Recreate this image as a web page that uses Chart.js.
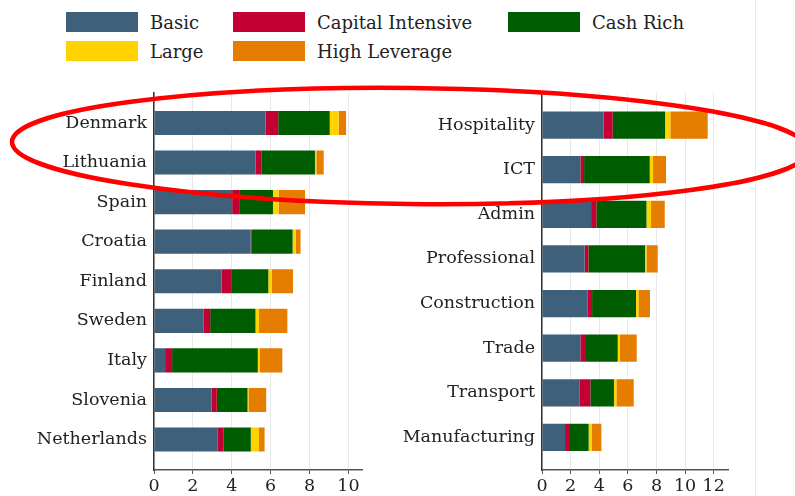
<!DOCTYPE html>
<html>
<head>
<meta charset="utf-8">
<script src="https://cdn.jsdelivr.net/npm/chart.js@4"></script>
<style>
  body { margin: 0; background: #fff; }
  #wrap { position: relative; width: 795px; height: 496px; overflow: hidden; font-family: "DejaVu Serif", serif; }
  #legend { position: absolute; left: 66px; top: 12px; display: grid; grid-template-columns: 167px 275px auto; row-gap: 9px; }
  .item { display: flex; align-items: center; font-size: 18px; color: #222; height: 20px; }
  .box { width: 72px; height: 20px; margin-right: 12px; }
  .panel { position: absolute; top: 75px; height: 421px; }
  #frame { position: absolute; left: 755px; top: 0; width: 0; height: 496px; border-left: 1px solid #ececec; }
  #mark { position: absolute; left: 0; top: 0; pointer-events: none; }
</style>
</head>
<body>
<div id="wrap">
  <div id="legend"></div>
  <div id="frame"></div>
  <div class="panel" style="left:0;width:370px"><canvas id="countryChart"></canvas></div>
  <div class="panel" style="left:390px;width:345px"><canvas id="sectorChart"></canvas></div>
  <svg id="mark" width="795" height="496">
    <ellipse cx="410" cy="146" rx="398" ry="58" transform="rotate(0.6 410 146)" fill="none" stroke="#ff0000" stroke-width="4.5"/>
  </svg>
</div>
<script>
const seriesNames = ["Basic", "Capital Intensive", "Cash Rich", "Large", "High Leverage"];
const seriesColors = ["#3f607a", "#c20033", "#005c00", "#ffd200", "#e57e00"];

const countries = ["Denmark", "Lithuania", "Spain", "Croatia", "Finland", "Sweden", "Italy", "Slovenia", "Netherlands"];
const countryBasic    = [5.74, 5.22, 4.02, 4.97, 3.47, 2.54, 0.57, 2.97, 3.26];
const countryCapital  = [0.65, 0.30, 0.36, 0.06, 0.50, 0.35, 0.36, 0.26, 0.33];
const countryCash     = [2.65, 2.76, 1.74, 2.10, 1.91, 2.33, 4.41, 1.58, 1.39];
const countryLarge    = [0.46, 0.07, 0.29, 0.16, 0.17, 0.18, 0.11, 0.05, 0.42];
const countryLeverage = [0.38, 0.38, 1.36, 0.25, 1.10, 1.46, 1.15, 0.91, 0.29];
const countryTicks = [0, 2, 4, 6, 8, 10];

const sectors = ["Hospitality", "ICT", "Admin", "Professional", "Construction", "Trade", "Transport", "Manufacturing"];
const sectorBasic    = [4.31, 2.68, 3.43, 2.98, 3.17, 2.68, 2.61, 1.61];
const sectorCapital  = [0.63, 0.26, 0.37, 0.26, 0.33, 0.33, 0.77, 0.28];
const sectorCash     = [3.66, 4.59, 3.50, 3.96, 3.07, 2.28, 1.65, 1.37];
const sectorLarge    = [0.37, 0.23, 0.32, 0.10, 0.17, 0.14, 0.17, 0.21];
const sectorLeverage = [2.61, 0.91, 0.96, 0.79, 0.81, 1.19, 1.21, 0.68];
const sectorTicks = [0, 2, 4, 6, 8, 10, 12];

// legend (shared by both panels)
const legend = document.getElementById("legend");
seriesNames.forEach((name, i) => {
  const item = document.createElement("div");
  item.className = "item";
  item.innerHTML = '<span class="box" style="background:' + seriesColors[i] + '"></span>' + name;
  legend.appendChild(item);
});

const font = { family: "'DejaVu Serif', serif", size: 17.5 };

function makeChart(id, labels, series, ticks, xMax, pad, yWidth, padRight) {
  return new Chart(document.getElementById(id), {
    type: 'bar',
    data: {
      datasets: series.map((values, s) => ({
        label: seriesNames[s],
        data: values.map((v, i) => ({ x: v, y: i })),
        backgroundColor: seriesColors[s],
        borderWidth: 0,
        barPercentage: 0.61,
        categoryPercentage: 1
      }))
    },
    options: {
      indexAxis: 'y',
      responsive: true,
      maintainAspectRatio: false,
      animation: false,
      layout: { padding: { top: 17, right: padRight, left: 0, bottom: 0 } },
      plugins: {
        legend: { display: false },
        tooltip: { enabled: false }
      },
      scales: {
        x: {
          type: 'linear',
          stacked: true,
          min: 0,
          max: xMax,
          afterBuildTicks: (scale) => { scale.ticks = ticks.map(v => ({ value: v })); },
          afterFit: (scale) => { scale.height = 26; },
          grid: { color: "#e8e8e8", lineWidth: 1, tickColor: "#555", tickLength: 4 },
          border: { color: "#555", width: 1.5 },
          ticks: { font: font, color: "#222", padding: 2, maxRotation: 0 }
        },
        y: {
          type: 'linear',
          stacked: true,
          reverse: true,
          offset: false,
          min: -pad,
          max: labels.length - 1 + pad,
          afterBuildTicks: (scale) => { scale.ticks = labels.map((l, i) => ({ value: i })); },
          afterFit: (scale) => { scale.width = yWidth; },
          grid: { display: false, drawTicks: false, offset: false },
          border: { color: "#333", width: 1.5 },
          ticks: {
            font: font,
            color: "#222",
            padding: 7,
            autoSkip: false,
            callback: (v) => labels[v]
          }
        }
      }
    }
  });
}

makeChart("countryChart", countries,
  [countryBasic, countryCapital, countryCash, countryLarge, countryLeverage],
  countryTicks, 10.7, 0.77, 154, 8);

makeChart("sectorChart", sectors,
  [sectorBasic, sectorCapital, sectorCash, sectorLarge, sectorLeverage],
  sectorTicks, 13, 0.73, 152, 7);
</script>
</body>
</html>
